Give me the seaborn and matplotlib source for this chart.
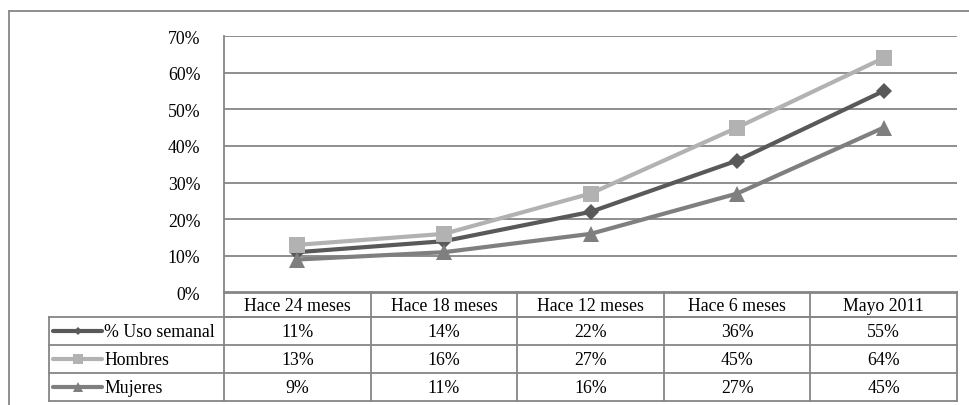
import matplotlib
matplotlib.use("Agg")
import matplotlib.pyplot as plt
from matplotlib.lines import Line2D
import seaborn as sns
import pandas as pd

# Periods and weekly-use shares per group
periods = ["Hace 24 meses", "Hace 18 meses", "Hace 12 meses", "Hace 6 meses", "Mayo 2011"]
series_names = ["% Uso semanal", "Hombres", "Mujeres"]
uso_semanal = [11, 14, 22, 36, 55]
hombres = [13, 16, 27, 45, 64]
mujeres = [9, 11, 16, 27, 45]
y_ticks = [0, 10, 20, 30, 40, 50, 60, 70]

values = [uso_semanal, hombres, mujeres]
colors = ["#595959", "#b2b2b2", "#7f7f7f"]
markers = ["D", "s", "^"]
marker_sizes = [8.5, 12, 12]
legend_marker_sizes = [4.5, 7, 6.5]

sns.set_theme(style="white")
plt.rcParams["font.family"] = ["Liberation Serif", "DejaVu Serif"]
FS = 12.8
GRID = "#868686"

W, H = 970, 406
fig = plt.figure(figsize=(W / 100, H / 100), dpi=100)

def fx(px):
    return px / W

def fy(py):
    return 1 - py / H

# outer chart frame (extends past the right and bottom edges)
fig.add_artist(Line2D([fx(9), fx(9)], [fy(12), fy(420)], color=GRID, lw=1.3,
                      transform=fig.transFigure))
fig.add_artist(Line2D([fx(9), fx(990)], [fy(12), fy(12)], color=GRID, lw=1.3,
                      transform=fig.transFigure))

# plot area
left, right, top, bottom = 224, 957, 37, 293.5
ax = fig.add_axes([fx(left), fy(bottom), fx(right - left), (bottom - top) / H])

df = pd.DataFrame({
    "x": list(range(len(periods))) * len(series_names),
    "y": [v for s in values for v in s],
    "serie": [n for n in series_names for _ in periods],
})
for name, c, m, ms in zip(series_names, colors, markers, marker_sizes):
    sub = df[df["serie"] == name]
    sns.lineplot(data=sub, x="x", y="y", ax=ax, color=c, linewidth=3.0,
                 marker=m, markersize=ms, markeredgewidth=0, legend=False,
                 zorder=3)

ax.set_xlim(-0.5, len(periods) - 0.5)
ax.set_ylim(0, 70)
ax.set_yticks(y_ticks)
ax.set_yticklabels([f"{t}%" for t in y_ticks], fontsize=FS, color="black")
ax.set_xticks([])
ax.set_xlabel("")
ax.set_ylabel("")
ax.tick_params(axis="y", length=0, pad=17)
ax.yaxis.grid(True, color=GRID, linewidth=1.3)
ax.set_axisbelow(True)
for side in ["top", "right"]:
    ax.spines[side].set_visible(False)
ax.spines["left"].set_color(GRID)
ax.spines["left"].set_linewidth(1.3)
ax.spines["bottom"].set_color(GRID)
ax.spines["bottom"].set_linewidth(1.3)
ax.patch.set_alpha(0)

# data table underneath
t_left, t_top, t_bottom = 49, 293, 402
tax = fig.add_axes([fx(t_left), fy(t_bottom), fx(right - t_left), (t_bottom - t_top) / H])
tax.set_xlim(t_left, right)
tax.set_ylim(t_bottom, t_top)
tax.axis("off")

col_w = (right - left) / len(periods)
col_edges = [left + i * col_w for i in range(len(periods) + 1)]
row_edges = [293, 318, 346, 374, 402]
kw = dict(color=GRID, lw=1.3, clip_on=False, solid_capstyle="projecting")

# header row
tax.plot([left, right], [row_edges[0], row_edges[0]], **kw)
tax.plot([left, right], [row_edges[1], row_edges[1]], **kw)
for xe in col_edges:
    tax.plot([xe, xe], [row_edges[0], row_edges[1]], **kw)
for i, p in enumerate(periods):
    tax.text((col_edges[i] + col_edges[i + 1]) / 2, (row_edges[0] + row_edges[1]) / 2 + 1,
             p, ha="center", va="center", fontsize=FS, color="black")

# body rows
for yb in row_edges[1:]:
    tax.plot([t_left, right], [yb, yb], **kw)
for xe in [t_left] + col_edges:
    tax.plot([xe, xe], [row_edges[1], row_edges[-1]], **kw)

for r, (name, c, m, lms, vals) in enumerate(zip(series_names, colors, markers,
                                                 legend_marker_sizes, values)):
    yc = (row_edges[r + 1] + row_edges[r + 2]) / 2
    tax.plot([53, 102], [yc, yc], color=c, lw=3.0, clip_on=False, solid_capstyle="round")
    tax.plot([77.5], [yc], marker=m, markersize=lms, color=c, markeredgewidth=0,
             clip_on=False)
    tax.text(104, yc + 1, name, ha="left", va="center", fontsize=FS, color="black")
    for i, v in enumerate(vals):
        tax.text((col_edges[i] + col_edges[i + 1]) / 2, yc + 1, f"{v}%",
                 ha="center", va="center", fontsize=FS, color="black")

fig.savefig("out.png", dpi=100, facecolor="white")
